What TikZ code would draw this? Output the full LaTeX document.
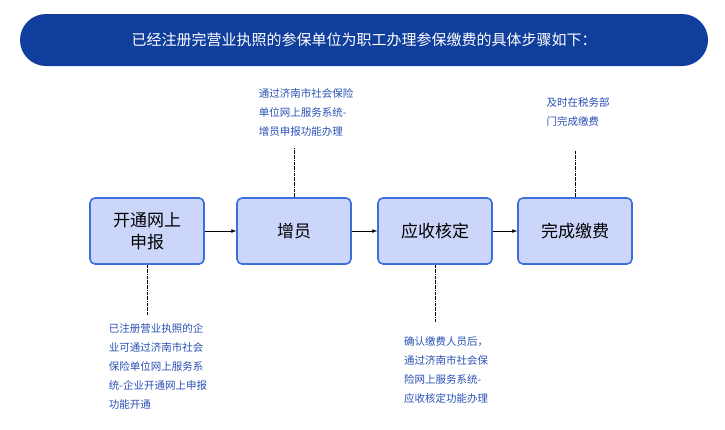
\documentclass[tikz,border=0pt]{standalone}
\usepackage{fontspec}
\newfontfamily\cjk{Noto Sans CJK SC}
\usetikzlibrary{arrows.meta, positioning}
\definecolor{bannerblue}{RGB}{16,62,156}
\definecolor{boxfill}{RGB}{204,214,250}
\definecolor{boxline}{RGB}{60,110,220}
\definecolor{notetext}{RGB}{40,80,180}
\tikzset{
    stepbox/.style={draw=boxline, line width=1.6pt, fill=boxfill, rounded corners=5pt,
        minimum width=114pt, minimum height=66pt, align=center, font=\cjk\fontsize{17}{22}\selectfont},
    note/.style={text=notetext, align=left, font=\cjk\fontsize{10.5}{19}\selectfont},
    notelink/.style={densely dashdotted, thin},
}
\begin{document}
\begin{tikzpicture}[x=1pt, y=-1pt]
    \useasboundingbox (0,0) rectangle (725,429);
    \node (banner) [fill=bannerblue, rounded corners=26pt, minimum width=688pt, minimum height=52pt,
        text=white, font=\cjk\fontsize{15}{18}\selectfont] at (364,40) {已经注册完营业执照的参保单位为职工办理参保缴费的具体步骤如下：};

    \node (S1) [stepbox, text width=100pt] at (147,231) {开通网上\\申报};
    \node (S2) [stepbox] at (294,231) {增员};
    \node (S3) [stepbox] at (435,231) {应收核定};
    \node (S4) [stepbox] at (575,231) {完成缴费};

    \draw [-Latex] (S1) -- (S2);
    \draw [-Latex] (S2) -- (S3);
    \draw [-Latex] (S3) -- (S4);

    \node (N2) [note] at (306,112) {通过济南市社会保险\\单位网上服务系统-\\增员申报功能办理};
    \node (N4) [note] at (578,112) {及时在税务部\\门完成缴费};
    \node (N1) [note] at (158,366) {已注册营业执照的企\\业可通过济南市社会\\保险单位网上服务系\\统-企业开通网上申报\\功能开通};
    \node (N3) [note] at (446,370) {确认缴费人员后，\\通过济南市社会保\\险网上服务系统-\\应收核定功能办理};

    \coordinate (N2end) at (294,148);
    \coordinate (N4end) at (575,150);
    \coordinate (N1end) at (147,315);
    \coordinate (N3end) at (435,322);
    \draw [notelink] (S2.north) -- (N2end);
    \draw [notelink] (S4.north) -- (N4end);
    \draw [notelink] (S1.south) -- (N1end);
    \draw [notelink] (S3.south) -- (N3end);
\end{tikzpicture}
\end{document}
